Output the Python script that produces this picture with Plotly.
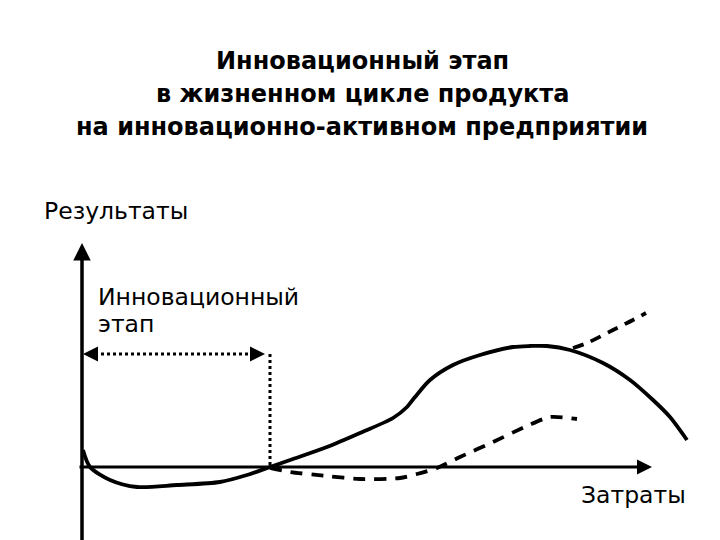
import plotly.graph_objects as go

# coordinate system: x = cost units, y = result units (origin at axes crossing)
# Main solid curve (product life cycle)
main_x = [1, 8, 28, 55, 95, 138, 165, 188, 211, 245, 278, 311, 325, 333, 348, 371, 398, 431, 448, 465, 488, 521, 548, 571, 588, 605]
main_y = [17, 0, -13, -20, -18, -15, -8, 0, 8, 20, 34, 49, 60, 70, 87, 102, 112, 120, 121, 121, 117, 104, 87, 67, 50, 27]

# Dashed upper continuation (innovation-active enterprise)
up_x = [491, 505, 531, 551, 564]
up_y = [119, 124, 137, 147, 154]

# Lower dashed curve
low_x = [188, 208, 245, 278, 318, 335, 355, 378, 411, 445, 468, 495]
low_y = [-1, -5, -9, -12, -11, -7, -1, 10, 25, 41, 50, 48]

# Innovation stage bracket
stage_x = [1, 183]
stage_level = 113
stage_end = 188

# Axis extents
x_axis_from, x_axis_to = -4, 570
y_axis_from, y_axis_to = -80, 224

OFF = 8  # page offset of the plot div

fig = go.Figure()

fig.add_trace(go.Scatter(x=main_x, y=main_y, mode="lines", line=dict(color="black", width=3.8, shape="spline", smoothing=0.8), hoverinfo="skip"))
fig.add_trace(go.Scatter(x=up_x, y=up_y, mode="lines", line=dict(color="black", width=3.8, dash="11px,8px", shape="spline"), hoverinfo="skip"))
fig.add_trace(go.Scatter(x=low_x, y=low_y, mode="lines", line=dict(color="black", width=3.8, dash="12px,9px", shape="spline", smoothing=0.7), hoverinfo="skip"))

# dotted bracket
fig.add_trace(go.Scatter(x=[stage_x[0] + 6, stage_x[1] - 6], y=[stage_level, stage_level], mode="lines",
                         line=dict(color="black", width=3, dash="dot"), hoverinfo="skip"))
fig.add_trace(go.Scatter(x=[stage_end, stage_end], y=[stage_level, 0], mode="lines",
                         line=dict(color="black", width=3, dash="dot"), hoverinfo="skip"))

ann = []
def arrow(x, y, ax, ay, w=3, size=1.0, head=2):
    ann.append(dict(x=x, y=y, ax=ax, ay=ay, xref="x", yref="y", axref="x", ayref="y",
                    showarrow=True, arrowhead=head, arrowsize=size, arrowwidth=w, arrowcolor="black", text=""))

# axes
arrow(x_axis_to, 0, x_axis_from, 0, w=3, size=1.0)
arrow(0, y_axis_to, 0, y_axis_from, w=3.5, size=1.0)
# bracket arrow heads
arrow(stage_x[0], stage_level, stage_x[0] + 10, stage_level, w=2.5, size=1.2)
arrow(stage_x[1], stage_level, stage_x[1] - 10, stage_level, w=2.5, size=1.2)

W, H = 720, 540
def px(xp):
    return (xp - OFF) / W
def py(yp):
    return 1 - (yp - OFF) / H

font = "DejaVu Sans, sans-serif"
title_lines = ["Инновационный этап", "в жизненном цикле продукта", "на инновационно-активном предприятии"]
for i, t in enumerate(title_lines):
    ann.append(dict(x=px(362), y=py(61 + 33 * i), xref="paper", yref="paper", text="<b>" + t + "</b>",
                    showarrow=False, font=dict(family=font, size=24, color="black"), xanchor="center", yanchor="middle"))

lab = dict(family=font, size=23.5, color="black")
ann.append(dict(x=px(42), y=py(211), xref="paper", yref="paper", text="Результаты", showarrow=False,
                font=lab, xanchor="left", yanchor="middle"))
ann.append(dict(x=px(96), y=py(297), xref="paper", yref="paper", text="Инновационный", showarrow=False,
                font=lab, xanchor="left", yanchor="middle"))
ann.append(dict(x=px(96), y=py(324), xref="paper", yref="paper", text="этап", showarrow=False,
                font=lab, xanchor="left", yanchor="middle"))
ann.append(dict(x=px(579), y=py(495), xref="paper", yref="paper", text="Затраты", showarrow=False,
                font=lab, xanchor="left", yanchor="middle"))

# pixel mapping: screen_x = OFF + (x - xmin), screen_y = OFF + (ymax - y)
fig.update_layout(
    width=W, height=H, margin=dict(l=0, r=0, t=0, b=0),
    paper_bgcolor="white", plot_bgcolor="white", showlegend=False,
    xaxis=dict(range=[-82 + OFF, 638 + OFF], visible=False, fixedrange=True),
    yaxis=dict(range=[-73 - OFF, 467 - OFF], visible=False, fixedrange=True),
    annotations=ann,
)

fig.write_html("out.html")
